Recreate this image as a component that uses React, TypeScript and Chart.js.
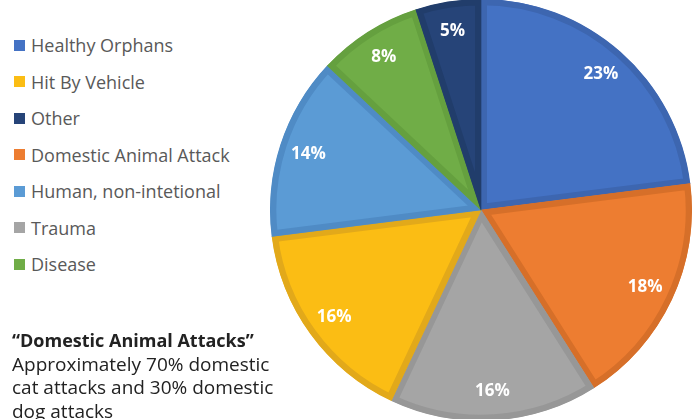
import React, { useEffect, useRef } from "react";
import { Chart, registerables } from "chart.js";

Chart.register(...registerables);

// Data (clockwise from top)
const categories = [
  "Healthy Orphans",
  "Domestic Animal Attack",
  "Trauma",
  "Hit By Vehicle",
  "Human, non-intetional",
  "Disease",
  "Other",
];
const values = [23, 18, 16, 16, 14, 8, 5];
const fillColors = ["#4472C4", "#ED7D31", "#A5A5A5", "#FBBD14", "#5B9BD5", "#70AD47", "#264478"];
const borderColors = ["#3D66B0", "#D66F29", "#979797", "#E2A91A", "#4F8BC5", "#65A03F", "#213D6B"];

// Legend order as shown in the picture
const legendOrder = [
  "Healthy Orphans",
  "Hit By Vehicle",
  "Other",
  "Domestic Animal Attack",
  "Human, non-intetional",
  "Trauma",
  "Disease",
];

const noteTitle = "“Domestic Animal Attacks”";
const noteLines = ["Approximately 70% domestic", "cat attacks and 30% domestic", "dog attacks"];

const FONT = "'Open Sans', 'Noto Sans', sans-serif";

const labelPlugin = {
  id: "pctLabels",
  afterDatasetsDraw(chart: any) {
    const ctx = chart.ctx;
    const meta = chart.getDatasetMeta(0);
    const total = values.reduce((a, b) => a + b, 0);
    ctx.save();
    ctx.fillStyle = "#FFFFFF";
    ctx.font = `bold 17px ${FONT}`;
    ctx.textAlign = "center";
    ctx.textBaseline = "middle";
    meta.data.forEach((arc: any, i: number) => {
      const { x, y, startAngle, endAngle, outerRadius } = arc.getProps(
        ["x", "y", "startAngle", "endAngle", "outerRadius"],
        true
      );
      const mid = (startAngle + endAngle) / 2;
      const d = outerRadius * 0.86;
      const pct = Math.round((values[i] / total) * 100);
      ctx.fillText(pct + "%", x + Math.cos(mid) * d, y + Math.sin(mid) * d);
    });
    ctx.restore();
  },
};

export default function App() {
  const ref = useRef<HTMLCanvasElement | null>(null);

  useEffect(() => {
    if (!ref.current) return;
    const chart = new Chart(ref.current, {
      type: "pie",
      data: {
        labels: categories,
        datasets: [
          {
            data: values,
            backgroundColor: fillColors,
            borderColor: borderColors,
            borderWidth: 6,
            borderAlign: "inner",
          } as any,
        ],
      },
      options: {
        animation: false,
        responsive: false,
        maintainAspectRatio: false,
        plugins: {
          legend: { display: false },
          tooltip: { enabled: false },
        },
        layout: { padding: 0 },
      },
      plugins: [labelPlugin],
    });
    return () => chart.destroy();
  }, []);

  return (
    <div
      style={{
        position: "fixed",
        left: 0,
        top: 0,
        width: 695,
        height: 419,
        overflow: "hidden",
        background: "#FFFFFF",
        fontFamily: FONT,
      }}
    >
      <canvas
        ref={ref}
        width={422}
        height={422}
        style={{ position: "absolute", left: 270, top: -1, width: 422, height: 422 }}
      />
      {legendOrder.map((name, i) => {
        const idx = categories.indexOf(name);
        return (
          <div
            key={name}
            style={{
              position: "absolute",
              left: 14,
              top: 45 + i * 36.5 - 12,
              height: 24,
              display: "flex",
              alignItems: "center",
              whiteSpace: "nowrap",
            }}
          >
            <span
              style={{
                display: "inline-block",
                width: 11,
                height: 11,
                background: fillColors[idx],
                marginRight: 6,
              }}
            />
            <span style={{ fontSize: 18, color: "#595959", lineHeight: "24px" }}>{name}</span>
          </div>
        );
      })}
      <div
        style={{
          position: "absolute",
          left: 12,
          top: 329,
          lineHeight: "23.7px",
          color: "#222222",
          whiteSpace: "nowrap",
        }}
      >
        <div style={{ fontWeight: 700, fontSize: 18 }}>{noteTitle}</div>
        {noteLines.map((l) => (
          <div key={l} style={{ fontSize: 19 }}>
            {l}
          </div>
        ))}
      </div>
    </div>
  );
}
